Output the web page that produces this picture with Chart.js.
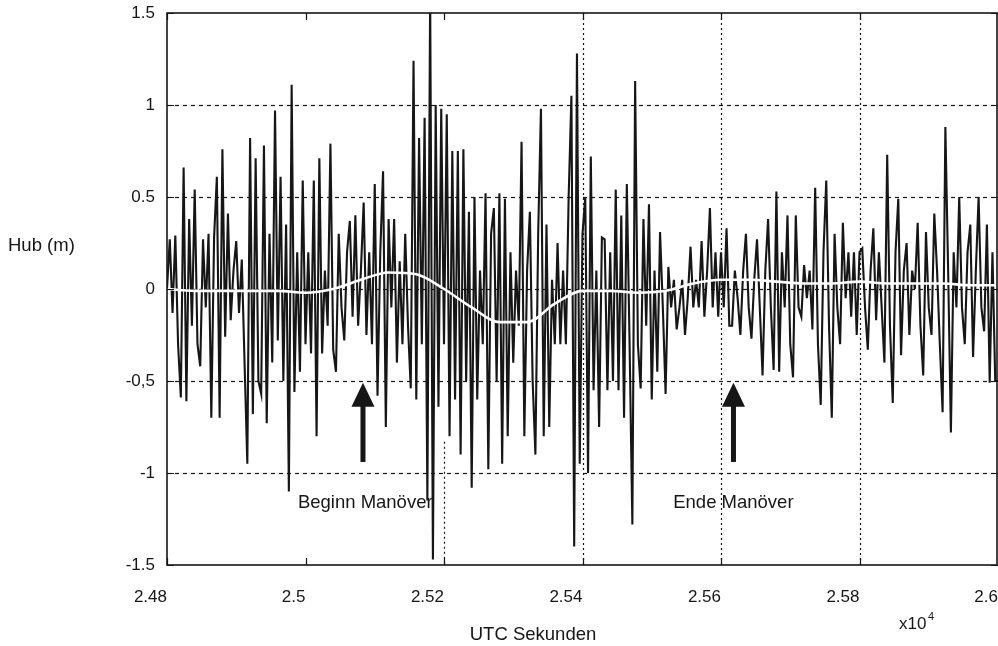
<!DOCTYPE html>
<html>
<head>
<meta charset="utf-8">
<script src="https://cdn.jsdelivr.net/npm/chart.js@4.4.1/dist/chart.umd.min.js"></script>
<style>
  html, body { margin: 0; padding: 0; background: #fff; }
  #wrap { width: 998px; height: 646px; }
</style>
</head>
<body>
<div id="wrap"><canvas id="hub" width="998" height="646"></canvas></div>
<script>
// Messreihe: Hub über UTC-Sekunden, Abtastung alle 4 s ab 24800 s
const startTime = 24800
const sampleStep = 4

// Hub (m): Spitzen und Täler der schwarzen Kurve
const hub = [
  0.0, 0.27, -0.13, 0.29, -0.3, -0.59, 0.66, -0.61, 0.38, -0.2,
  0.54, -0.3, -0.42, 0.27, -0.1, 0.3, -0.7, 0.28, 0.61, -0.7,
  0.76, -0.26, 0.41, -0.17, 0.1, 0.26, -0.13, 0.16, -0.4, -0.95,
  0.82, -0.68, 0.71, -0.5, -0.57, 0.78, -0.73, 0.3, -0.4, 0.97,
  -0.28, 0.61, -0.5, 0.35, -1.1, 1.11, -0.56, 0.2, -0.45, 0.59,
  -0.3,
  0.2, -0.35, 0.59, -0.8, 0.71, -0.35, 0.1, -0.2, 0.79, -0.33,
  -0.45, 0.3, -0.1, -0.28, 0.2, 0.37, -0.15, 0.4, -0.2, 0.1,
  0.47, -0.25, 0.2, -0.3, 0.57, -0.58, 0.2, 0.64, -0.75, 0.38,
  -0.1, 0.38, -0.4, 0.15, -0.3, 0.3, -0.2, -0.54, 1.24, -0.6,
  0.82, -0.3, 0.93, -1.15, 1.6, -1.47, 1.0, -0.64, 0.98, -0.3,
  0.95, -0.8, 0.75, -0.6, 0.75, -0.9, 0.76, -0.5, 0.42, -1.08,
  0.5, -0.6, 0.1, -0.3, 0.52, -0.98, 0.3, 0.44, -0.5, 0.52,
  -0.95, 0.49, -0.8, 0.2, -0.4, 0.1, -0.2, 0.8, -0.8, 0.1,
  0.42, -0.5, -0.9, 0.3, 0.98, -0.8, 0.35, -0.75, 0.05, -0.3,
  0.25, -0.3, 0.1, -0.3, 0.5, 1.05, -1.4, 1.28, -0.95, 0.3,
  0.5, -1.0, 0.72, -0.55, 0.1, -0.75, 0.28, 0.27, -0.55, 0.2,
  -0.5, 0.54, -0.55, 0.4, -0.7, 0.57, -0.3, -1.28, 1.13, -0.3,
  -0.54, 0.38, -0.2, 0.46, -0.6, 0.1, -0.45, 0.31, -0.1, -0.57,
  0.12, -0.1, 0.05, -0.22, -0.1, 0.05, -0.25, -0.05, 0.23, -0.1,
  0.05, -0.1, 0.26, -0.15, 0.1, 0.44, -0.1, 0.2, -0.15, 0.2,
  -0.1, 0.33, -0.2, -0.2, 0.1, -0.05, -0.25, 0.1, 0.3, -0.1,
  -0.27, 0.05, 0.27, -0.1, -0.47, 0.1, 0.38, -0.1, -0.44, 0.53,
  -0.45, 0.2, -0.1, 0.4, -0.3, -0.48, 0.4, -0.1, -0.15, 0.13,
  -0.05, 0.1, -0.22, 0.55, -0.3, -0.63, 0.2, 0.59, -0.2, -0.7,
  0.3, -0.1, -0.3, 0.36, -0.05, 0.2, -0.15, 0.2, -0.25, 0.2,
  0.22, -0.1, -0.33, 0.1, 0.33, -0.17, 0.2, -0.1, -0.4, 0.73,
  -0.2, -0.62, 0.2, 0.49, -0.36, 0.1, 0.25, -0.25, 0.1, 0.0,
  0.36, -0.2, -0.47, 0.31, -0.1, -0.25, 0.41, 0.1, -0.3, -0.67,
  0.88, 0.1, -0.78, 0.2, -0.1, 0.5, -0.1, -0.3, 0.2, 0.35,
  -0.37, 0.1, 0.5, -0.1, -0.23, 0.35, -0.51, 0.2, -0.5, -0.5
]

// geglätteter Verlauf (weiße Kurve)
const meanTime = [
  24800, 24840, 24880, 24920, 24960, 25000, 25040, 25080, 25120, 25160,
  25200, 25240, 25280, 25320, 25360, 25400, 25440, 25480, 25520, 25560,
  25600, 25640, 25680, 25720, 25760, 25800, 25840, 25880, 25920, 25960,
  26000
]
const meanHub = [
  0.0, -0.01, -0.01, -0.01, -0.01, -0.02, 0.0, 0.05, 0.09, 0.08,
  0.0, -0.1, -0.18, -0.18, -0.08, -0.01, -0.01, -0.02, -0.01, 0.03,
  0.05, 0.05, 0.04, 0.03, 0.03, 0.04, 0.03, 0.03, 0.03, 0.02,
  0.02
]

const xTickLabels = ['2.48', '2.5', '2.52', '2.54', '2.56', '2.58', '2.6']
const yTickLabels = ['-1.5', '-1', '-0,5', '0', '0.5', '1', '1.5']

const fontFamily = "'Liberation Sans', Arial, Helvetica, sans-serif"
const ink = '#161616'

// Pfeile und Beschriftungen im Diagramm
const notes = [
  { arrowAt: 25083, text: 'Beginn Manöver', textAt: 24989 },
  { arrowAt: 25618, text: 'Ende Manöver', textAt: 25531 }
]

const hubPoints = hub.map((v, i) => ({ x: startTime + i * sampleStep, y: v }))
const meanPoints = meanHub.map((v, i) => ({ x: meanTime[i], y: v }))

const gridPlugin = {
  id: 'gridPlugin',
  beforeDatasetsDraw(chart) {
    const { ctx, chartArea: a, scales: { x, y } } = chart
    ctx.save()
    ctx.strokeStyle = ink
    ctx.lineWidth = 1.2
    // horizontale gestrichelte Linien
    ctx.setLineDash([4, 4])
    ;[-1, -0.5, 0, 0.5, 1].forEach(v => {
      const py = Math.round(y.getPixelForValue(v)) + 0.5
      ctx.beginPath(); ctx.moveTo(a.left, py); ctx.lineTo(a.right, py); ctx.stroke()
    })
    // vertikale gepunktete Linien
    ctx.setLineDash([2, 3])
    ;[25400, 25600, 25800].forEach(v => {
      const px = Math.round(x.getPixelForValue(v)) + 0.5
      ctx.beginPath(); ctx.moveTo(px, a.top); ctx.lineTo(px, a.bottom); ctx.stroke()
    })
    const px = Math.round(x.getPixelForValue(25200)) + 0.5
    ctx.beginPath(); ctx.moveTo(px, y.getPixelForValue(-0.83)); ctx.lineTo(px, a.bottom); ctx.stroke()
    ctx.restore()
  },
  afterDatasetsDraw(chart) {
    const { ctx, chartArea: a, scales: { x, y } } = chart
    ctx.save()
    ctx.strokeStyle = ink
    ctx.lineWidth = 1.6
    ctx.strokeRect(a.left, a.top, a.right - a.left - 1, a.bottom - a.top)

    // kleine Striche nach innen
    ctx.lineWidth = 1.2
    ;[24800, 25000, 25200, 25400, 25600, 25800, 26000].forEach(v => {
      const px = Math.round(x.getPixelForValue(v)) + 0.5
      ctx.beginPath()
      ctx.moveTo(px, a.bottom); ctx.lineTo(px, a.bottom - 7)
      ctx.moveTo(px, a.top); ctx.lineTo(px, a.top + 7)
      ctx.stroke()
    })
    ;[-1.5, -1, -0.5, 0, 0.5, 1, 1.5].forEach(v => {
      const py = Math.round(y.getPixelForValue(v)) + 0.5
      ctx.beginPath()
      ctx.moveTo(a.left, py); ctx.lineTo(a.left + 7, py)
      ctx.moveTo(a.right, py); ctx.lineTo(a.right - 7, py)
      ctx.stroke()
    })

    // Pfeile
    ctx.fillStyle = ink
    notes.forEach(n => {
      const px = x.getPixelForValue(n.arrowAt)
      const tip = y.getPixelForValue(-0.51)
      const base = y.getPixelForValue(-0.64)
      const tail = y.getPixelForValue(-0.94)
      ctx.beginPath()
      ctx.moveTo(px, tip); ctx.lineTo(px - 11.5, base); ctx.lineTo(px + 11.5, base)
      ctx.closePath(); ctx.fill()
      ctx.fillRect(px - 2.5, base - 1, 5, tail - base + 1)
    })

    // Texte
    ctx.font = '18.5px ' + fontFamily
    ctx.textBaseline = 'middle'
    ctx.textAlign = 'left'
    notes.forEach(n => {
      ctx.fillText(n.text, x.getPixelForValue(n.textAt), y.getPixelForValue(-1.165))
    })
    ctx.fillText('Hub (m)', 8, 246)
    ctx.textAlign = 'center'
    ctx.fillText('UTC Sekunden', 533, 635)
    ctx.textAlign = 'left'
    ctx.font = '17px ' + fontFamily
    ctx.fillText('x10', 899, 624)
    ctx.font = '11px ' + fontFamily
    ctx.fillText('4', 928, 617)
    ctx.restore()
  }
}

new Chart(document.getElementById('hub'), {
  type: 'line',
  data: {
    datasets: [
      {
        label: 'Mittel',
        data: meanPoints,
        borderColor: '#ffffff',
        borderWidth: 2.6,
        pointRadius: 0,
        cubicInterpolationMode: 'monotone',
        order: 0
      },
      {
        label: 'Hub',
        data: hubPoints,
        borderColor: ink,
        borderWidth: 2.1,
        pointRadius: 0,
        tension: 0,
        order: 1
      }
    ]
  },
  options: {
    responsive: false,
    animation: false,
    devicePixelRatio: 1,
    layout: { padding: { top: 13, right: 0, left: 0, bottom: 0 } },
    plugins: {
      legend: { display: false },
      tooltip: { enabled: false }
    },
    scales: {
      x: {
        type: 'linear',
        min: 24800,
        max: 26000,
        grid: { display: false, drawTicks: false },
        border: { display: false },
        afterFit(scale) {
          scale.height = 81
          scale.paddingLeft = 0
          scale.paddingRight = 0
        },
        ticks: {
          stepSize: 200,
          align: 'end',
          padding: 22,
          maxRotation: 0,
          color: ink,
          font: { family: fontFamily, size: 17 },
          callback: (v, i) => xTickLabels[i]
        }
      },
      y: {
        min: -1.5,
        max: 1.5,
        grid: { display: false, drawTicks: false },
        border: { display: false },
        afterFit(scale) {
          scale.width = 167
          scale.paddingTop = 0
          scale.paddingBottom = 0
        },
        ticks: {
          stepSize: 0.5,
          padding: 12,
          color: ink,
          font: { family: fontFamily, size: 17 },
          callback: (v, i) => yTickLabels[i]
        }
      }
    }
  },
  plugins: [gridPlugin]
})
</script>
</body>
</html>
